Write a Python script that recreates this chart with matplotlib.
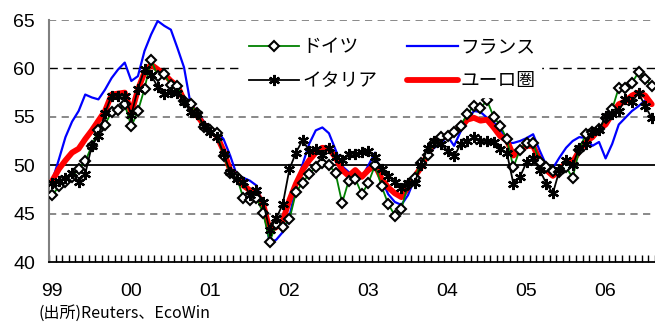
import matplotlib
matplotlib.use("Agg")
from matplotlib import pyplot as plt
import numpy as np

plt.rcParams['font.family'] = ['Liberation Sans', 'Noto Sans CJK JP', 'DejaVu Sans']

# monthly PMI, Jan 1999 - Aug 2006
germany = [46.9, 47.8, 48.3, 48.8, 49.6, 50.4, 52.0, 53.6, 54.2, 55.5, 55.7, 56.3,
           54.0, 55.6, 57.9, 60.9, 59.2, 59.4, 58.3, 58.2, 56.6, 56.3, 55.4, 53.9,
           53.6, 53.3, 51.0, 49.2, 48.8, 46.6, 46.4, 46.6, 45.1, 42.1, 43.9, 43.6,
           44.4, 47.2, 48.2, 49.1, 49.8, 50.2, 50.0, 49.2, 46.1, 48.4, 48.6, 47.0,
           48.2, 50.0, 47.8, 46.0, 44.8, 45.5, 48.0, 48.7, 50.2, 51.1, 52.3, 52.9,
           53.0, 53.4, 54.1, 55.3, 56.1, 55.9, 56.7, 55.0, 54.1, 52.7, 49.8, 51.6,
           52.3, 52.3, 50.3, 49.8, 49.4, 49.3, 49.8, 48.7, 51.6, 53.2, 53.4, 53.7,
           54.9, 55.8, 58.0, 58.0, 58.5, 59.6, 58.9, 58.2]
france = [48.4, 50.6, 52.9, 54.5, 55.6, 57.3, 57.0, 56.8, 57.8, 59.0, 59.9, 60.6,
          58.7, 59.2, 61.8, 63.5, 64.9, 64.4, 64.0, 62.1, 60.1, 56.3, 55.6, 54.5,
          53.8, 53.5, 52.7, 51.0, 49.0, 48.7, 48.4, 47.9, 45.9, 42.0, 42.3, 43.1,
          44.7, 47.7, 50.1, 52.2, 53.6, 53.9, 53.3, 51.6, 49.9, 49.3, 49.0, 48.8,
          50.0, 51.3, 48.5, 47.0, 46.2, 45.9, 46.9, 48.6, 50.2, 51.2, 51.8, 52.3,
          53.0, 52.0, 53.5, 54.6, 55.6, 55.5, 54.9, 54.4, 53.9, 52.3, 52.3, 52.5,
          52.8, 53.2, 51.5, 50.0, 49.7, 50.8, 51.8, 52.5, 52.9, 52.8, 52.0, 52.4,
          50.7, 52.2, 54.2, 54.9, 55.6, 56.1, 56.7, 56.2]
italy = [48.2, 48.4, 48.7, 49.2, 48.3, 49.1, 52.0, 53.0, 55.4, 57.2, 57.2, 57.2,
         55.2, 57.9, 59.9, 59.3, 58.1, 57.4, 57.6, 57.5, 56.5, 55.5, 55.3, 54.1,
         53.4, 52.9, 51.2, 49.3, 48.6, 48.3, 46.9, 47.4, 46.2, 43.3, 44.5, 46.0,
         49.6, 51.3, 52.6, 51.5, 51.7, 51.1, 51.8, 50.8, 50.5, 51.2, 51.2, 51.4,
         51.5, 50.8, 49.6, 48.9, 48.3, 47.6, 48.2, 48.2, 50.0, 51.8, 52.5, 52.2,
         51.5, 50.9, 52.2, 52.5, 52.9, 52.5, 52.5, 52.4, 51.7, 51.3, 48.1, 48.8,
         50.3, 50.7, 49.5, 48.1, 47.1, 49.5, 50.5, 50.0, 51.8, 52.2, 53.4, 53.6,
         55.1, 55.3, 55.6, 56.8, 56.5, 57.5, 56.1, 54.9]
euro = [48.4, 49.6, 50.5, 51.3, 51.7, 52.7, 53.6, 54.6, 55.6, 57.3, 57.4, 57.5,
        55.4, 57.8, 59.6, 60.4, 59.9, 59.4, 58.7, 58.2, 56.7, 56.1, 55.1, 54.2,
        53.6, 53.0, 51.5, 49.5, 48.8, 47.9, 47.4, 47.1, 46.0, 43.3, 43.6, 44.3,
        46.4, 48.1, 49.5, 50.5, 51.3, 51.8, 51.7, 50.8, 49.5, 48.9, 49.5, 48.8,
        49.5, 50.0, 48.6, 47.7, 47.1, 46.7, 47.7, 48.8, 49.8, 51.2, 52.4, 52.9,
        53.0, 53.4, 53.9, 54.7, 54.9, 54.6, 54.7, 53.9, 53.0, 52.6, 51.0, 51.5,
        52.0, 52.0, 50.5, 49.5, 48.9, 49.5, 50.3, 50.3, 51.5, 52.4, 52.9, 53.7,
        54.2, 55.3, 56.3, 56.6, 57.2, 57.5, 57.2, 56.3]
year_labels = ["99", "00", "01", "02", "03", "04", "05", "06"]

months = np.arange(len(euro))

fig = plt.figure(figsize=(6.55, 3.26), dpi=100)
ax = fig.add_axes([49 / 655, 64 / 326, 606 / 655, 242 / 326])

# grid lines
for v in [45, 55, 65]:
    ax.axhline(v, color="#808080", lw=1.3, dashes=(4, 3), zorder=1)
ax.axhline(60, color="black", lw=1.0, dashes=(6, 4), zorder=1)
ax.axhline(50, color="black", lw=1.3, zorder=1)

ax.plot(months, france, color="#0000FF", lw=1.6, zorder=2, label="フランス")
ax.plot(months, euro, color="#FF0000", lw=4.2, zorder=3, solid_capstyle="round",
        label="ユーロ圏")
ax.plot(months, germany, color="#008000", lw=1.3, marker="D", ms=4.8,
        mfc="white", mec="black", mew=1.5, zorder=4, label="ドイツ")
ax.plot(months, italy, color="black", lw=1.3, marker=(6, 2, 0), ms=8,
        mec="black", mew=1.6, zorder=5, label="イタリア")

ax.set_xlim(-0.5, len(euro) - 0.5)
ax.set_ylim(40, 65)
ax.set_yticks([40, 45, 50, 55, 60, 65])
ax.set_xticks(np.arange(0, len(euro), 12))
ax.set_xticklabels(year_labels)
ax.set_xticks(np.arange(-0.5, len(euro), 1), minor=True)
ax.tick_params(axis="x", which="minor", direction="in", length=5, width=1, color="black")
ax.tick_params(axis="x", which="major", length=0, pad=15, labelsize=14)
ax.tick_params(axis="y", length=0, pad=10, labelsize=14)

for s in ["top", "right"]:
    ax.spines[s].set_visible(False)
ax.spines["left"].set_color("#808080")
ax.spines["left"].set_linewidth(1.5)
ax.spines["bottom"].set_color("black")
ax.spines["bottom"].set_linewidth(1.3)

handles, labels = ax.get_legend_handles_labels()
order = [2, 3, 0, 1]
leg = ax.legend([handles[k] for k in order], [labels[k] for k in order],
                ncol=2, loc="upper left", bbox_to_anchor=(0.305, 0.995),
                frameon=True, fancybox=False, framealpha=1, edgecolor="white",
                facecolor="white", numpoints=1, handlelength=2.7,
                handletextpad=0.15, columnspacing=1.6, labelspacing=0.7,
                borderpad=0.3, prop={"family": ["Noto Sans CJK JP"], "size": 13.5})
leg.set_zorder(6)

fig.text(38 / 655, 1 - 313 / 326, "(出所)Reuters、EcoWin", fontsize=11.5,
         va="center", ha="left", family=["Noto Sans CJK JP", "DejaVu Sans"])

fig.savefig("out.png", dpi=100)
